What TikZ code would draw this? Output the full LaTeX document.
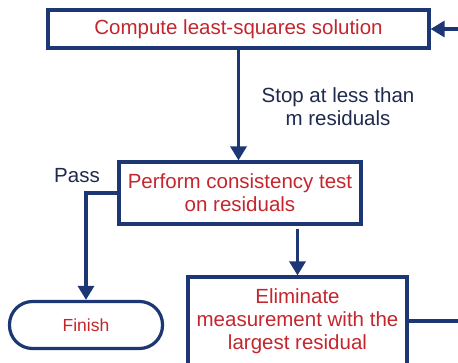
\documentclass[tikz,border=0pt]{standalone}
\usepackage{fontspec}
\setmainfont{Liberation Sans}
\usetikzlibrary{arrows.meta}
\definecolor{boxblue}{HTML}{1C3773}
\definecolor{textred}{HTML}{C4262E}
\definecolor{labelblue}{HTML}{1E2A4E}
\begin{document}
\begin{tikzpicture}[x=1pt,y=-1pt]

    \tikzset{
      stepbox/.style={
        draw=boxblue,
        line width=3.2pt,
        text=textred,
        align=center,
        inner sep=0pt,
        font=\fontsize{20.5}{23}\selectfont,
      },
      endbox/.style={
        stepbox,
        rounded corners=23pt,
        font=\fontsize{17.5}{20}\selectfont,
      },
      flow/.style={
        draw=boxblue,
        line width=3.2pt,
        -{Triangle[width=16pt,length=14pt]},
      },
      note/.style={
        text=labelblue,
        align=center,
        font=\fontsize{20.5}{23}\selectfont,
      },
    }
    \useasboundingbox (0,0) rectangle (458,363);
    \clip (0,0) rectangle (458,363);
    \node[stepbox, minimum width=381pt, minimum height=38pt] (solve) at (238.5,29) {Compute least-squares solution};
    \node[stepbox, minimum width=242pt, minimum height=62pt] (test) at (240,193) {Perform consistency test\\on residuals};
    \node[stepbox, minimum width=219pt, minimum height=88pt] (drop) at (297.5,321) {Eliminate\\measurement with the\\largest residual};
    \node[endbox, minimum width=153pt, minimum height=47pt] (finish) at (86,325) {Finish};
    \node[note] (stoplbl) at (338,107) {Stop at less than\\m residuals};
    \node[note] (passlbl) at (77,176) {Pass};
    \coordinate (loopdown) at (475,321);

	\draw[flow] (solve.south) -- (solve.south |- test.north);
	\draw[flow] (test.west) -| (finish.north);
	\draw[flow, shorten <=3pt] (drop.north |- test.south) -- (drop.north);
	\draw[flow] (drop.east) -- (loopdown) |- (solve.east);

\end{tikzpicture}
\end{document}
